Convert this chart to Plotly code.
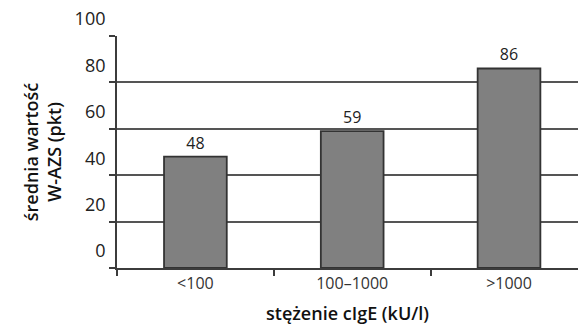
import plotly.graph_objects as go

categories = ["<100", "100–1000", ">1000"]
values = [48, 59, 86]
y_ticks = [0, 20, 40, 60, 80, 100]

FONT = "Open Sans"
LINE = "#3c3c3c"

fig = go.Figure(
    go.Bar(
        x=categories,
        y=values,
        width=0.40,
        marker=dict(color="#808080", line=dict(color="#333333", width=1.8)),
        text=[str(v) for v in values],
        textposition="outside",
        textfont=dict(family=FONT, size=16, color="#222222"),
        cliponaxis=False,
    )
)

fig.update_layout(
    width=578,
    height=330,
    margin=dict(l=117, r=0, t=36, b=62),
    paper_bgcolor="white",
    plot_bgcolor="white",
    showlegend=False,
    font=dict(family=FONT, color="#222222"),
)

fig.update_xaxes(
    type="category",
    range=[-0.5, 2.44],
    tickson="boundaries",
    ticks="outside",
    ticklen=6,
    tickwidth=1.8,
    tickcolor=LINE,
    showline=True,
    linecolor=LINE,
    linewidth=1.8,
    showgrid=False,
    tickfont=dict(size=16, color="#333333"),
    title=dict(
        text="stężenie cIgE (kU/l)",
        font=dict(size=18, color="#111111", weight=600),
        standoff=14,
    ),
)

fig.update_yaxes(
    range=[0, 100],
    tickvals=y_ticks,
    ticks="outside",
    ticklen=6,
    tickwidth=1.8,
    tickcolor=LINE,
    showline=True,
    linecolor=LINE,
    linewidth=1.8,
    showgrid=True,
    gridcolor="#555555",
    gridwidth=1.6,
    zeroline=False,
    ticklabelshift=-17,
    ticklabelstandoff=0,
    tickfont=dict(size=18, color="#222222"),
    title=dict(
        text="średnia wartość<br>W-AZS (pkt)",
        font=dict(size=18, color="#111111", weight=600),
        standoff=8,
    ),
)

fig.write_html("out.html")
